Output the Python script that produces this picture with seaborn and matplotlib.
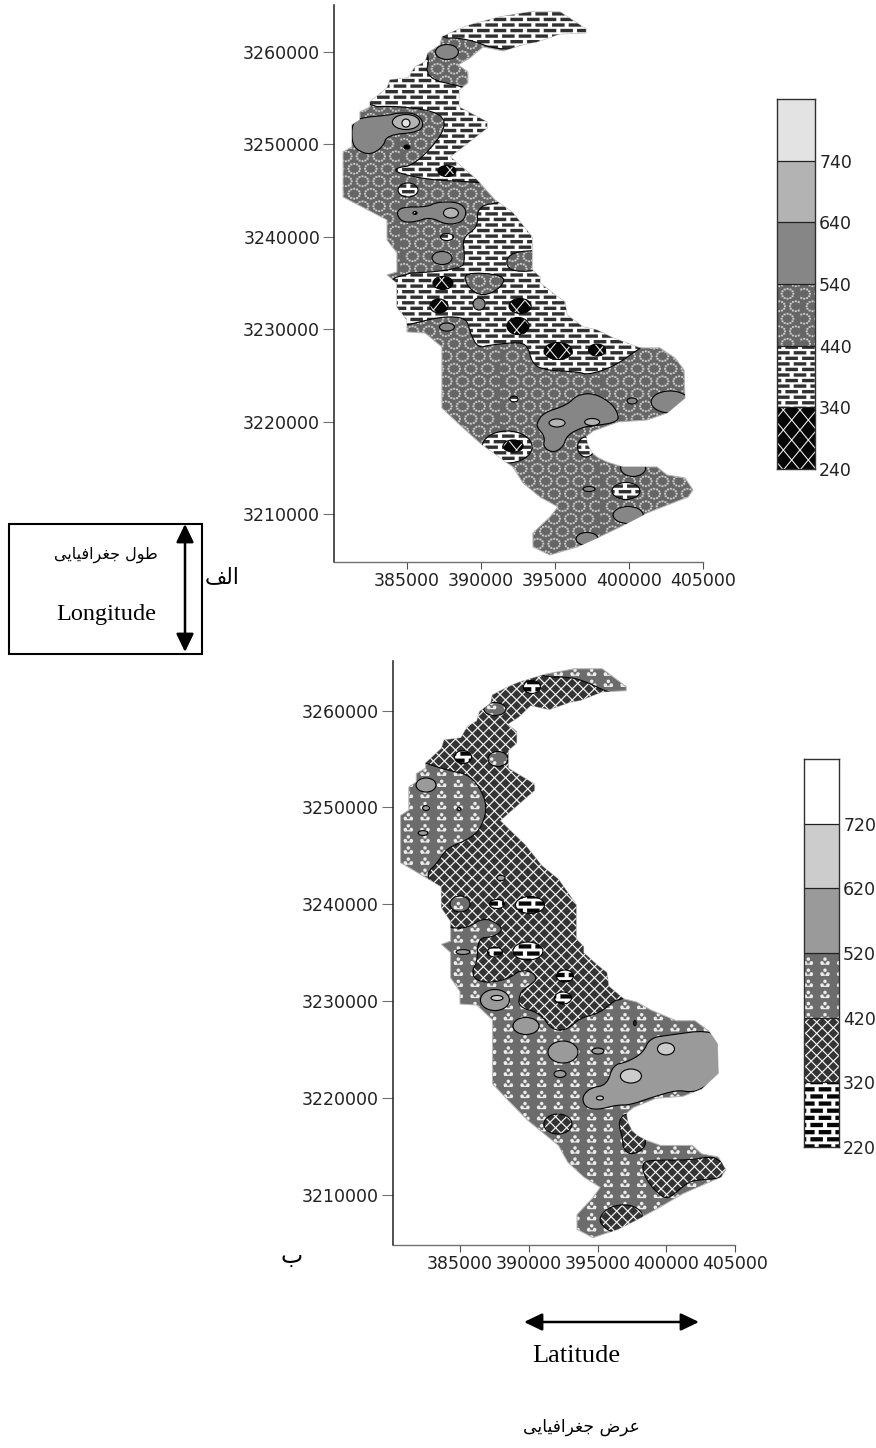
import numpy as np
import matplotlib
matplotlib.use("Agg")
import matplotlib.pyplot as plt
import matplotlib.hatch as mhatch
from matplotlib.path import Path
from matplotlib.patches import Polygon, Ellipse, Rectangle, FancyArrowPatch
import seaborn as sns

outline = [(393.31,3264.33),(395.34,3264.33),(397.09,3262.49),(397.09,3262.06),(395.34,3261.95),(393.78,3261.08),
 (393.0,3260.87),(391.49,3260.11),(390.14,3260.54),(389.26,3259.35),(388.45,3258.59),(389.12,3257.84),(389.12,3256.65),
 (388.51,3255.89),(388.51,3254.05),(390.41,3252.42),(390.41,3251.77),(387.91,3248.64),(389.73,3246.15),(390.95,3243.98),
 (392.16,3242.58),(393.45,3239.98),(393.45,3236.41),(393.99,3235.65),(393.99,3235.0),(395.0,3233.7),(395.68,3232.94),
 (395.81,3231.54),(396.89,3230.24),(397.84,3229.91),(398.92,3229.05),(400.74,3227.97),(402.09,3227.97),(403.11,3226.88),
 (403.72,3225.58),(403.78,3222.55),(402.57,3220.93),(401.22,3220.17),(399.26,3219.96),(397.6,3219.0),(397.1,3218.4),
 (397.2,3217.5),(397.5,3216.6),(397.9,3216.1),(398.51,3215.63),(399.59,3215.09),(401.89,3215.09),(402.57,3214.22),
 (403.78,3213.9),(404.32,3212.6),(403.99,3211.84),(401.22,3210.11),(399.39,3208.59),(397.84,3207.4),(396.49,3206.43),
 (394.66,3205.56),(393.51,3206.43),(393.51,3207.94),(394.66,3209.68),(395.2,3210.76),(393.99,3211.84),(392.84,3213.35),
 (392.16,3215.09),(389.93,3217.68),(388.58,3219.63),(387.36,3221.47),(387.36,3228.07),(386.22,3229.59),(385.0,3229.7),
 (385.0,3231.0),(384.32,3232.4),(384.32,3235.0),(383.65,3235.87),(384.32,3236.19),(384.32,3238.25),(383.65,3239.65),
 (383.65,3241.82),(380.68,3244.3),(380.68,3249.18),(381.28,3249.72),(381.28,3252.1),(381.82,3252.64),(381.82,3253.5),
 (382.5,3254.05),(382.5,3254.59),(383.65,3256.1),(383.85,3256.97),(385.07,3257.19),(385.54,3258.38),(386.22,3258.92),
 (386.42,3259.89),(387.23,3260.76),(387.36,3261.62),(388.38,3262.38),(389.26,3262.92),(391.28,3263.79)]

# Map A regions
a_brick_north = [(386.9,3261.5),(389.0,3261.5),(391.4,3260.0),(397.8,3261.0),(397.8,3265.0),(388.0,3265.0)]
a_brick_upper = [(386.55,3259.66),(386.22,3257.18),(388.79,3256.2),(392.44,3254.8),(392.44,3245.38),(389.73,3245.92),
 (386.55,3246.14),(384.32,3246.9),(384.19,3247.44),(385.54,3247.76),(387.57,3251.33),(387.43,3253.39),(384.53,3254.15),
 (382.03,3254.04),(382.03,3258.37),(385.68,3260.96)]
a_brick_lower = [(390.95,3243.76),(395.34,3243.97),(402.1,3229.37),(400.75,3227.96),(398.93,3225.9),(397.17,3225.04),
 (396.69,3225.36),(394.19,3225.58),(393.45,3226.34),(393.18,3228.07),(392.64,3228.61),(390.61,3228.29),(389.8,3227.96),
 (389.26,3229.58),(389.12,3230.77),(388.58,3231.32),(387.23,3231.32),(385.0,3230.45),(383.51,3229.91),(383.17,3235.86),
 (388.72,3236.4),(388.92,3237.81),(388.72,3239.86),(389.8,3241.05),(389.73,3243.11)]
a_hex_east = [(392.1,3238.35),(394.2,3238.56),(394.2,3236.4),(392.17,3236.18),(391.62,3237.16)]
a_hex_mid = [(388.79,3236.18),(391.62,3235.86),(391.42,3234.56),(390.14,3233.5),(389.12,3234.45)]
a_gray_nw = [(381.28,3252.09),(381.69,3252.85),(383.85,3253.17),(384.32,3253.39),(385.54,3253.39),(386.15,3252.41),
 (385.88,3251.33),(383.65,3251.01),(383.38,3249.71),(382.5,3248.84),(381.62,3249.38),(381.28,3250.25)]
a_gray_mid = [(384.26,3242.57),(384.66,3243.22),(386.35,3243.22),(387.03,3243.76),(388.45,3243.76),(389.06,3242.89),
 (388.79,3241.59),(387.7,3241.27),(386.55,3242.14),(385.54,3241.59),(384.66,3241.59)]
a_gray_se = [(393.79,3219.85),(394.19,3220.93),(395.82,3221.79),(396.49,3222.88),(397.57,3223.09),(398.72,3222.12),
 (399.26,3220.93),(399.26,3219.95),(397.57,3219.52),(396.9,3219.41),(395.82,3218.55),(395.55,3217.25),(394.87,3216.6),
 (394.19,3217.25),(394.33,3218.33),(393.79,3219.41)]
# spots: easting, northing, width, height
a_spots_brick = [(385.07,3245.06,1.35,1.51),(387.7,3239.97,.88,.76),(392.23,3222.44,.54,.65),(391.76,3217.25,3.38,3.46),
 (397.1,3217.25,1.15,2.16),(399.8,3212.49,1.89,1.84)]
a_spots_lattice = [(387.7,3247.11,1.22,1.19),(387.43,3235.0,1.35,1.41),(387.16,3232.51,1.22,1.51),(392.64,3232.51,1.49,1.62),
 (392.5,3230.34,1.49,1.84),(395.21,3227.64,1.89,1.84),(397.84,3227.74,1.15,1.3),(392.17,3217.36,1.35,1.3),
 (385.0,3249.71,.41,.43),(385.54,3242.57,.27,.32)]
a_spots_gray = [(387.7,3259.99,1.55,1.62),(387.37,3237.7,1.35,1.41),(389.87,3232.72,.81,1.3),(387.7,3230.23,1.01,.87),
 (400.21,3222.23,.68,.65),(402.78,3222.12,2.57,2.38),(400.28,3214.98,1.69,1.84),(399.94,3209.89,2.03,1.84),
 (397.17,3207.3,1.49,1.41),(397.3,3212.7,.81,.54)]
a_spots_light = [(384.93,3252.41,1.83,1.62),(387.97,3242.57,1.01,1.08),(395.14,3219.85,1.08,.87),(397.51,3219.95,1.01,.76)]
a_spots_pale = [(384.93,3252.3,.54,.87)]

# Map B regions
b_lattice_main = [(391.03,3263.48),(393.0,3263.48),(394.23,3262.96),(395.69,3261.93),(398.09,3261.1),(398.09,3231.15),
 (396.63,3230.11),(396.27,3230.11),(395.18,3228.77),(393.72,3228.25),(392.78,3227.01),(391.69,3227.01),(390.82,3228.77),
 (389.22,3229.39),(389.36,3230.84),(389.87,3231.46),(390.6,3232.18),(390.31,3233.0),(389.36,3233.21),(388.64,3232.39),
 (387.18,3231.87),(386.09,3232.18),(385.87,3233.21),(386.24,3233.93),(386.31,3236.52),(387.4,3236.62),(388.13,3237.34),
 (387.69,3238.07),(386.67,3238.59),(385.51,3237.55),(384.42,3237.55),(382.82,3237.86),(382.82,3242.51),(382.6,3243.23),
 (383.33,3244.26),(384.05,3245.81),(385.51,3246.64),(386.45,3247.67),(386.96,3249.74),(386.67,3251.5),(385.73,3253.36),
 (384.05,3253.87),(382.46,3254.59),(381.37,3254.9),(381.37,3262.13),(387.91,3265.2)]
b_lattice_se = [(398.3,3213.27),(398.81,3213.58),(401.72,3213.58),(402.96,3213.89),(403.68,3213.79),(404.63,3212.55),
 (404.12,3211.72),(402.23,3211.52),(401.5,3211.21),(400.27,3209.66),(399.69,3209.76),(398.81,3211.0),(398.3,3212.34)]
b_lattice_s = [(395.03,3207.39),(395.69,3208.62),(396.85,3209.04),(397.87,3208.72),(398.45,3207.7),(397.14,3206.65),
 (396.41,3206.03),(395.69,3206.35)]
b_lattice_notch = [(397.0,3218.44),(396.49,3217.51),(396.85,3215.65),(396.85,3214.82),(397.36,3214.1),(398.3,3214.61),
 (398.6,3215.65),(397.6,3218.03)]
b_gray_east = [(393.87,3220.09),(394.45,3221.02),(395.69,3221.33),(396.12,3223.39),(397.14,3223.7),(398.3,3224.63),
 (398.81,3226.19),(400.27,3226.5),(402.96,3227.01),(404.27,3225.98),(404.27,3222.57),(402.45,3220.81),(401.72,3220.6),
 (400.78,3220.81),(399.03,3220.09),(397.36,3219.27),(396.41,3219.27),(394.96,3218.75),(394.09,3219.06)]
b_spots_lattice = [(392.12,3217.3,2.04,2.07),(397.72,3227.73,.2,.5),(384.93,3249.84,.3,.3)]
b_spots_trefoil = [(387.76,3255.01,1.45,1.55),(387.54,3260.17,1.6,1.34),(385.0,3240.03,1.45,1.65)]
b_spots_gray = [(389.8,3227.43,1.89,1.76),(392.49,3224.74,2.18,2.27),(387.54,3230.11,2.11,2.17),(392.27,3222.47,.87,.72),
 (395.03,3224.84,.87,.62),(382.53,3252.32,1.45,1.45),(382.53,3249.94,.5,.5),(382.31,3247.36,.7,.5),(387.98,3242.72,.6,.55),
 (385.22,3235.07,1.0,.5)]
b_spots_light = [(399.98,3225.06,1.24,1.24),(397.43,3222.26,1.53,1.45),(395.18,3219.99,.51,.41),(387.69,3230.32,.87,.52)]
b_spots_brick = [(390.23,3262.45,1.24,1.34),(385.22,3255.21,1.24,1.34),(387.69,3240.03,1.09,.93),(390.09,3239.93,2.11,1.76),
 (387.54,3235.07,1.09,1.03),(389.94,3235.17,2.18,1.86),(392.63,3232.59,1.24,1.24),(392.49,3230.32,1.24,1.24)]

x_ticks = [385000, 390000, 395000, 400000, 405000]
y_ticks = [3210000, 3220000, 3230000, 3240000, 3250000, 3260000]
a_levels = [240, 340, 440, 540, 640, 740, 840]
b_levels = [220, 320, 420, 520, 620, 720, 820]

# Persian labels as presentation forms in visual order (matplotlib has no Arabic shaping)
word_geo = "\uFBFD\uFBFE\uFE8E\uFBFF\uFED3\uFE8D\uFEAE\uFED0\uFE9F"
label_lon_fa = word_geo + " " + "\uFEDD\uFEEE\uFEC3"
label_lat_fa = word_geo + " " + "\uFEBD\uFEAE\uFECB"
label_alef = "\uFED2\uFEDF\uFE8D"
label_be = "\uFE8F"
label_lon = "Longitude"
label_lat = "Latitude"

# ---------- custom hatch tiles (unit square = 100 px at dpi 100) ----------
def rect(cx, cy, w, h):
    return [(cx-w/2, cy-h/2), (cx+w/2, cy-h/2), (cx+w/2, cy+h/2), (cx-w/2, cy+h/2), (cx-w/2, cy-h/2)]

def disc(cx, cy, r, n=8):
    t = np.linspace(0, 2*np.pi, n+1)
    return [(cx+r*np.cos(a), cy+r*np.sin(a)) for a in t]

def brick_tile(cols, rows, w, h):
    polys = []
    for j in range(rows):
        for i in range(cols):
            cx = (i + (0.5 if j % 2 else 0)) / cols
            polys.append(rect(cx, (j+.5)/rows, w, h))
            if cx == 0:
                polys.append(rect(1.0, (j+.5)/rows, w, h))
    return polys

def diamond_tile(cols, rows, hw, hh):
    polys = []
    for j in range(rows*2+1):
        for i in range(cols+1):
            cx = (i + (0.5 if j % 2 else 0)) / cols
            cy = j / (rows*2)
            polys.append([(cx-hw, cy), (cx, cy-hh), (cx+hw, cy), (cx, cy+hh), (cx-hw, cy)])
    return polys

def hex_tile(cols, rows, r):
    polys = []
    for j in range(rows):
        for i in range(cols):
            cx = (i + (0.5 if j % 2 else 0) + .25) / cols
            cy = (j+.5)/rows
            for k in range(12):
                a = k*np.pi/6
                polys.append(rect(cx+r*np.cos(a), cy+r*np.sin(a)*0.85, .019, .017))
    return polys

def trefoil_tile(cols, rows, r):
    polys = []
    for j in range(rows):
        for i in range(cols):
            cx = (i+.5)/cols
            cy = (j+.5)/rows
            polys += [disc(cx, cy+.02, r), disc(cx-.03, cy-.017, r), disc(cx+.03, cy-.017, r)]
            polys.append(rect(cx, cy-.03, .08, .012))
    return polys

def make_type(char, polys):
    verts = np.concatenate([np.array(p, float) for p in polys])
    codes = []
    for p in polys:
        codes += [Path.MOVETO] + [Path.LINETO]*(len(p)-2) + [Path.CLOSEPOLY]
    codes = np.array(codes, Path.code_type)
    class Tile(mhatch.HatchPatternBase):
        filled = True
        def __init__(self, hatch, density):
            self.num_vertices = len(verts) if char in hatch else 0
        def set_vertices_and_codes(self, vertices, c):
            vertices[:] = verts
            c[:] = codes
    return Tile

mhatch._hatch_types = [
    make_type('-', brick_tile(6, 18, .125, .033)),
    make_type('|', brick_tile(6, 14, .125, .042)),
    make_type('x', diamond_tile(6, 5, .076, .092)),
    make_type('X', diamond_tile(9, 9, .047, .047)),
    make_type('o', hex_tile(6, 8, .058)),
    make_type('*', trefoil_tile(6, 9, .018)),
]

# band styles: face, hatch, hatch colour
brick_a = ('white', '-', '#303030')
lattice_a = ('white', 'x', '#050505')
hex_a = ('#666666', 'o', '#cfcfcf')
gray_a = ('#868686', None, '#868686')
light_a = ('#b3b3b3', None, '#b3b3b3')
pale_a = ('#e3e3e3', None, '#e3e3e3')
brick_b = ('white', '|', '#050505')
lattice_b = ('white', 'X', '#333333')
trefoil_b = ('#6c6c6c', '*', '#ececec')
gray_b = ('#9a9a9a', None, '#9a9a9a')
light_b = ('#cccccc', None, '#cccccc')
white_b = ('white', None, 'white')

# ---------- figure ----------
sns.set_theme(style="white")
plt.rcParams['font.family'] = ['DejaVu Sans']
plt.rcParams['hatch.linewidth'] = 0.05
W, H = 876, 1448
fig = plt.figure(figsize=(W/100, H/100), dpi=100, facecolor='white')

def add_axes(l, t, r, b):
    return fig.add_axes([l/W, 1-b/H, (r-l)/W, (b-t)/H])

def km(points):
    return np.array(points, float)*1000

def rounded(points, iterations=2):
    pts = np.array(points, float)
    for _ in range(iterations):
        nxt = np.roll(pts, -1, axis=0)
        pts = np.column_stack([.75*pts + .25*nxt, .25*pts + .75*nxt]).reshape(-1, 2)
    return pts

def fill(ax, patch_fn, style, clip):
    face, hatch, hc = style
    p = patch_fn()
    p.set(facecolor=face, edgecolor=hc, hatch=hatch, linewidth=0)
    ax.add_patch(p)
    p.set_clip_path(clip)
    q = patch_fn()
    q.set(fill=False, edgecolor='black', linewidth=0.8)
    ax.add_patch(q)
    q.set_clip_path(clip)

def region(ax, pts, style, clip):
    fill(ax, lambda: Polygon(km(rounded(pts)), closed=True), style, clip)

def spots(ax, rows, style, clip):
    for e, n, w, h in rows:
        fill(ax, lambda: Ellipse((e*1000, n*1000), w*1000, h*1000), style, clip)

def map_axes(l, t, r, b, xlim, ylim, base):
    ax = add_axes(l, t, r, b)
    ax.set_xlim(*xlim); ax.set_ylim(*ylim)
    sns.despine(ax=ax)
    ax.spines['left'].set(color='#202020', linewidth=1.1)
    ax.spines['bottom'].set(color='#707070', linewidth=1.0)
    ax.set_xticks(x_ticks, [str(v) for v in x_ticks])
    ax.set_yticks(y_ticks, [str(v) for v in y_ticks])
    ax.tick_params(axis='y', length=8, width=.8, color='#707070', pad=2, labelsize=12.5, left=True, labelcolor='#222222')
    ax.tick_params(axis='x', length=5, width=.8, color='#505050', pad=2, labelsize=12.5, bottom=True, labelcolor='#222222')
    face, hatch, hc = base
    clip = Polygon(km(outline), closed=True, facecolor=face, edgecolor=hc, hatch=hatch, linewidth=0)
    ax.add_patch(clip)
    ax.add_patch(Polygon(km(outline), closed=True, fill=False, edgecolor='#b5b5b5', linewidth=.7))
    return ax, clip

def colorbar(l, t, r, b, levels, styles):
    ax = add_axes(l, t, r, b)
    ax.set_xlim(0, 1); ax.set_ylim(levels[0], levels[-1])
    for lo, hi, (face, hatch, hc) in zip(levels[:-1], levels[1:], styles):
        ax.bar(.5, hi-lo, bottom=lo, width=1, color=face, edgecolor=hc, hatch=hatch, linewidth=0)
    ax.hlines(levels[1:-1], 0, 1, color='#202020', linewidth=.9)
    ax.set_xticks([])
    ax.set_yticks(levels[:-1], [str(v) for v in levels[:-1]])
    ax.yaxis.tick_right()
    ax.tick_params(axis='y', length=0, pad=3, labelsize=12.5, right=False, labelcolor='#222222')
    for s in ax.spines.values():
        s.set(color='#303030', linewidth=1.0, visible=True)
    return ax

# Map A
axa, clip_a = map_axes(334, 5, 703, 562, (380068, 405000), (3204805, 3265075), hex_a)
for pts in (a_brick_north, a_brick_upper, a_brick_lower):
    region(axa, pts, brick_a, clip_a)
for pts in (a_hex_east, a_hex_mid):
    region(axa, pts, hex_a, clip_a)
for pts in (a_gray_nw, a_gray_mid, a_gray_se):
    region(axa, pts, gray_a, clip_a)
spots(axa, a_spots_gray, gray_a, clip_a)
spots(axa, a_spots_brick, brick_a, clip_a)
spots(axa, a_spots_lattice, lattice_a, clip_a)
spots(axa, a_spots_light, light_a, clip_a)
spots(axa, a_spots_pale, pale_a, clip_a)
colorbar(777, 99, 815, 469, a_levels, [lattice_a, brick_a, hex_a, gray_a, light_a, pale_a])

# Map B
axb, clip_b = map_axes(392.7, 661, 735, 1245, (380105, 405000), (3204804, 3265132), trefoil_b)
for pts in (b_lattice_main, b_lattice_se, b_lattice_s, b_lattice_notch):
    region(axb, pts, lattice_b, clip_b)
region(axb, b_gray_east, gray_b, clip_b)
spots(axb, b_spots_trefoil, trefoil_b, clip_b)
spots(axb, b_spots_gray, gray_b, clip_b)
spots(axb, b_spots_lattice, lattice_b, clip_b)
spots(axb, b_spots_brick, brick_b, clip_b)
spots(axb, b_spots_light, light_b, clip_b)
colorbar(804, 759, 839, 1147, b_levels, [brick_b, lattice_b, trefoil_b, gray_b, light_b, white_b])

# Annotations
def ftext(x, y, s, **kw):
    fig.text(x/W, 1-y/H, s, ha='center', va='center', color='black', **kw)

def farrow(x0, y0, x1, y1):
    fig.add_artist(FancyArrowPatch((x0/W, 1-y0/H), (x1/W, 1-y1/H), transform=fig.transFigure,
                                   arrowstyle='<|-|>,head_length=5,head_width=2.4', color='black',
                                   linewidth=1.8, shrinkA=0, shrinkB=0, mutation_scale=2.2))

fig.add_artist(Rectangle((9/W, 1-654/H), 193/W, 130/H, transform=fig.transFigure, fill=False,
                         edgecolor='black', linewidth=1.5))
farrow(185, 524, 185, 652)
farrow(524, 1322, 699, 1322)
ftext(106, 555, label_lon_fa, fontsize=11.5, family='DejaVu Sans')
ftext(106, 614, label_lon, fontsize=17.5, family='Liberation Serif')
ftext(222, 577, label_alef, fontsize=15.5, family='DejaVu Sans')
ftext(292, 1256, label_be, fontsize=17, family='DejaVu Sans')
ftext(576, 1356, label_lat, fontsize=19, family='Liberation Serif')
ftext(581, 1427, label_lat_fa, fontsize=12.3, family='DejaVu Sans')

fig.savefig("out.png", dpi=100)
